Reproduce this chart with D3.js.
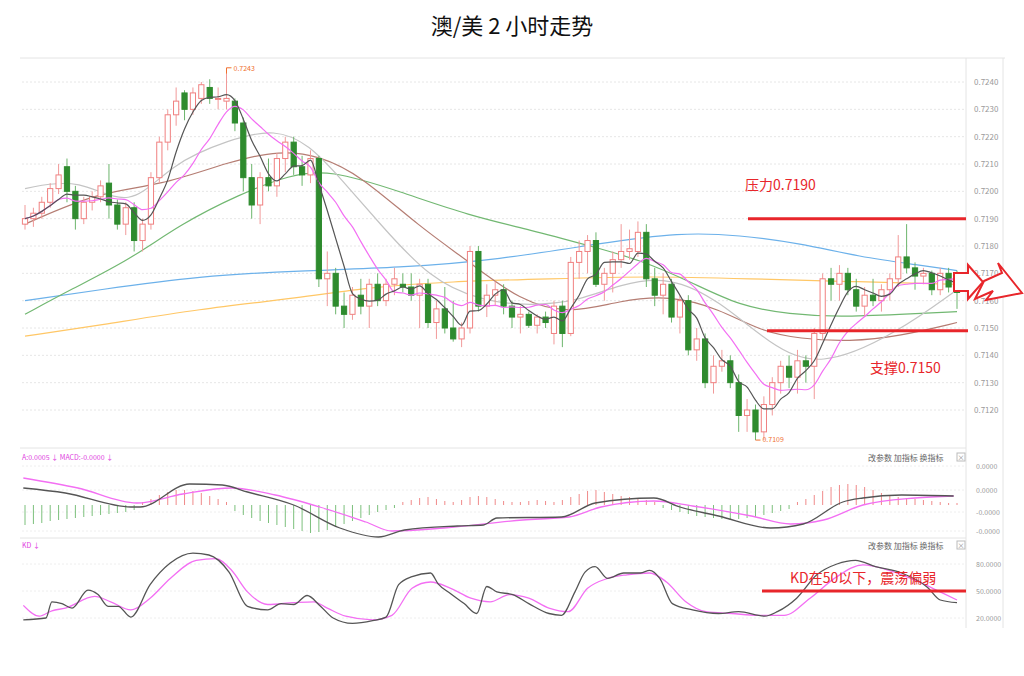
<!DOCTYPE html>
<html><head><meta charset="utf-8">
<script src="https://cdn.jsdelivr.net/npm/d3@7"></script>
<style>body{margin:0;background:#fff;font-family:"Noto Sans CJK SC","Noto Sans",sans-serif}</style>
</head><body><div id="chart"></div>
<script>
// 蜡烛 [open, high, low, close]，单位 0.0001
const candles = [
[7188,7195,7186,7190],[7190,7194,7187,7192],[7192,7198,7190,7196],[7196,7203,7194,7201],[7201,7210,7199,7206],
[7209,7212,7196,7200],[7200,7202,7186,7190],[7190,7198,7188,7196],[7196,7200,7193,7198],[7198,7204,7196,7202],
[7203,7210,7190,7195],[7195,7197,7186,7188],[7188,7196,7184,7194],[7194,7196,7178,7182],[7182,7190,7178,7188],
[7188,7207,7186,7205],[7205,7220,7203,7218],[7218,7230,7215,7228],[7228,7238,7224,7233],[7236,7237,7226,7230],
[7230,7238,7228,7236],[7234,7240,7232,7239],[7238,7241,7232,7234],[7234,7238,7230,7234],[7233,7243,7230,7234],
[7233,7234,7222,7225],[7225,7227,7200,7205],[7205,7210,7190,7195],[7195,7207,7188,7205],[7205,7212,7200,7202],
[7202,7214,7198,7212],[7212,7220,7207,7218],[7218,7220,7206,7209],[7209,7213,7202,7206],[7206,7215,7203,7212],
[7212,7213,7165,7168],[7168,7178,7158,7170],[7170,7172,7155,7158],[7158,7163,7150,7155],[7155,7165,7153,7162],
[7162,7168,7155,7158],[7158,7168,7150,7166],[7166,7170,7158,7160],[7160,7168,7158,7166],[7166,7172,7162,7168],
[7166,7170,7163,7165],[7165,7170,7160,7162],[7162,7168,7150,7166],[7166,7168,7150,7152],[7152,7160,7146,7157],
[7157,7165,7148,7150],[7150,7160,7145,7146],[7146,7152,7143,7150],[7150,7180,7148,7178],[7178,7180,7156,7158],
[7158,7166,7154,7162],[7162,7167,7158,7164],[7164,7166,7155,7158],[7158,7160,7150,7154],[7154,7158,7148,7155],
[7155,7156,7150,7151],[7151,7155,7148,7154],[7154,7156,7150,7152],[7148,7160,7144,7158],[7158,7160,7143,7148],
[7148,7176,7147,7174],[7174,7182,7168,7178],[7178,7184,7170,7182],[7182,7185,7165,7166],[7166,7172,7160,7170],
[7170,7178,7163,7175],[7175,7188,7172,7178],[7178,7186,7175,7179],[7178,7189,7176,7185],[7185,7188,7165,7168],
[7168,7172,7158,7162],[7162,7170,7155,7166],[7166,7168,7152,7154],[7154,7162,7148,7160],[7160,7162,7140,7142],
[7142,7150,7138,7146],[7146,7148,7128,7130],[7130,7140,7126,7136],[7136,7142,7134,7138],[7138,7140,7128,7130],
[7130,7133,7112,7118],[7118,7124,7112,7120],[7120,7122,7109,7112],[7112,7125,7109,7122],[7122,7132,7118,7130],
[7130,7138,7126,7136],[7136,7140,7128,7132],[7132,7142,7126,7138],[7138,7140,7130,7136],[7136,7150,7124,7148],
[7148,7170,7146,7168],[7168,7172,7160,7166],[7166,7173,7160,7170],[7170,7172,7162,7164],[7164,7168,7156,7158],
[7158,7165,7154,7162],[7162,7168,7158,7160],[7160,7166,7156,7164],[7164,7170,7160,7168],[7168,7184,7165,7176],
[7176,7188,7170,7172],[7172,7174,7164,7169],[7169,7172,7166,7170],[7170,7171,7162,7164],[7164,7172,7162,7170],
[7170,7172,7163,7165],[7170,7171,7157,7163]
];
// 均线采样 [bar, price]
const maGray = [[0,7201],[6.5,7205],[12.5,7193],[17.3,7210],[24.4,7219],[29.8,7223],[33.9,7217],[37.5,7205],[42.3,7188],[48.2,7168],[54.2,7160],[60.1,7158],[66.1,7160],[70.8,7166],[76.8,7169],[82.7,7160],[88.7,7144],[94.6,7135],[103.8,7148],[111,7164]];
const maBrown = [[0,7188],[8.9,7200],[16.1,7202],[24.4,7211],[30.4,7215],[35.1,7213],[39.9,7206],[47,7187],[53,7174],[58.9,7160],[64.9,7155],[70.8,7160],[76.8,7162],[82.7,7157],[87.5,7149],[92.3,7146],[98.2,7145],[104.2,7147],[111,7152]];
const maGreen = [[0,7155],[5.4,7164],[12.5,7175],[18.5,7188],[25.6,7199],[31.5,7206],[36.3,7208],[44.6,7200],[53,7191],[60.1,7186],[67.3,7180],[73.2,7175],[79.2,7167],[85.1,7158],[91.1,7155],[97,7154],[104.2,7155],[111,7156]];
const maBlue = [[0,7160],[8.9,7164],[20.8,7169],[32.7,7171],[44.6,7172],[56.5,7175],[68.5,7181],[78,7185],[85.1,7184],[92.3,7181],[99.4,7176],[106.5,7173],[111,7171]];
const maOrange = [[0,7147],[8.9,7151],[20.8,7157],[32.7,7161],[41.1,7165],[50.6,7167],[62.5,7168],[74.4,7169],[86.3,7168],[98.2,7167],[111,7166]];
const priceTicks = [7120,7130,7140,7150,7160,7170,7180,7190,7200,7210,7220,7230,7240];

// MACD
const dif = [[-0.2,17],[4.8,12],[12.6,-2],[13.7,-2],[19.6,21],[23.5,20],[26.5,13],[32,0],[37.5,-23],[42.1,-32],[45.2,-25],[51.5,-21],[54.6,-20],[56.2,-13],[63.9,-12],[67.9,2],[74.9,7],[78,-2],[82.6,-11],[88.8,-23],[92.7,-19],[97.4,3],[99.8,7],[104.4,10],[110.6,9]];
const dea = [[-0.2,27],[6.3,17],[13.3,2],[18.8,11],[24.6,17],[29.8,10],[35.1,-2],[40.6,-17],[43.7,-26],[49.9,-23],[59.3,-15],[64.8,-12],[68.6,-2],[74.9,4],[79.5,-1],[86.5,-11],[91.2,-19],[95.1,-15],[99.8,0],[106,7],[110.6,9]];
const hist = [-20,-19,-18,-16,-15,-14,-13,-12,-11,-10,-9,-8,-7,-5,
3,6,10,13,15,15,14,12,9,6,3,
-6,-10,-13,-16,-18,-20,-22,-24,-26,-28,-27,-25,-22,-19,-16,-13,-10,-7,-5,-3,
3,5,7,8,6,4,3,5,8,9,8,6,4,3,3,4,5,4,3,
5,8,11,14,15,13,11,9,8,7,5,3,
-3,-5,-7,-9,-11,-12,-13,-14,-15,-14,-13,-12,-10,-8,-6,-4,
3,6,10,14,18,20,21,20,18,15,12,10,8,7,6,5,4,3,2,2];
const macdTicks = [[39,'0.0000'],[15,'0.0000'],[-7,'-0.0000'],[-26,'-0.0000']];

// KD
const kLine = [[-0.2,18],[2.5,20],[3.2,38],[4.4,36],[5.6,31],[7.5,51],[8.7,46],[9.9,33],[11.1,33],[12.6,21],[14.9,57],[17.3,81],[20,92],[21.9,90],[24.3,71],[26.5,33],[28.9,29],[30.5,36],[32,35],[33.6,45],[35.1,34],[36.7,20],[39,14],[41.4,17],[43,21],[44.5,57],[46.1,66],[48.3,70],[49.2,58],[50.7,47],[52.3,36],[53.8,25],[55,55],[56.2,49],[58.1,46],[60,36],[62.4,25],[63.9,23],[65.5,49],[66.7,71],[67.9,77],[69.4,64],[71.3,70],[73.3,70],[74.4,73],[75.6,64],[77.1,36],[79.5,29],[82.6,25],[85,27],[88.1,22],[89.6,27],[91.9,42],[94.3,68],[96.7,80],[98.9,84],[101.3,77],[104.4,70],[107.5,54],[109,40],[111,37]];
const dLine = [[-0.2,34],[1.7,22],[3.2,28],[4.8,31],[8.3,44],[10.2,38],[12.6,29],[14.9,42],[17.3,64],[20.4,84],[22.7,86],[24.6,73],[26.5,49],[28.9,35],[32,37],[34.4,38],[36,31],[38.2,22],[41.4,18],[43.7,23],[46.1,53],[48.3,60],[50.7,53],[53.1,42],[55.4,38],[57.7,46],[60,42],[62.4,31],[64.7,27],[67,53],[69.4,64],[71.7,68],[74.4,70],[76.4,60],[78.7,38],[81.1,27],[84.2,25],[87.3,23],[90.4,23],[93.5,42],[96.7,66],[99.8,79],[102.9,73],[106,62],[109,49],[111,40]];
const kdTicks = [80,50,20];

const W = 1024, H = 676;
const svg = d3.select('#chart').append('svg').attr('width', W).attr('height', H);
const x = d3.scaleLinear().domain([0, 111]).range([25, 957]);
const y = d3.scaleLinear().domain([7120, 7240]).range([410, 82]);
const ym = d3.scaleLinear().domain([0, 10]).range([505, 495]);
const yk = d3.scaleLinear().domain([20, 80]).range([618, 564]);
const grey = '#999', red = '#e8262b';

svg.append('text').attr('x', 512).attr('y', 34).attr('text-anchor', 'middle')
  .attr('font-size', 22).attr('fill', '#111').text('澳/美 2 小时走势');

// 边框
const frame = svg.append('g').attr('stroke', '#e4e4e4').attr('fill', 'none');
frame.append('line').attr('x1', 20).attr('x2', 1005).attr('y1', 58).attr('y2', 58);
frame.append('line').attr('x1', 966).attr('x2', 966).attr('y1', 58).attr('y2', 628);
frame.append('line').attr('x1', 1003).attr('x2', 1003).attr('y1', 58).attr('y2', 628);
frame.append('line').attr('x1', 20).attr('x2', 966).attr('y1', 448).attr('y2', 448);
frame.append('line').attr('x1', 20).attr('x2', 966).attr('y1', 538).attr('y2', 538);

// 价格网格和坐标
const grid = svg.append('g');
grid.selectAll('line').data(priceTicks).join('line')
  .attr('x1', 22).attr('x2', 964).attr('y1', d => y(d)).attr('y2', d => y(d))
  .attr('stroke', '#e6e6e6').attr('stroke-dasharray', '2,2');
grid.selectAll('text').data(priceTicks).join('text')
  .attr('x', 974).attr('y', d => y(d) + 3).attr('font-size', 8).attr('fill', grey)
  .text(d => '0.' + d);

// 均线
const maLine = d3.line().x(d => x(d[0])).y(d => y(d[1])).curve(d3.curveBasis);
[[maOrange, '#ffc766'], [maBlue, '#6cb1ea'], [maGreen, '#72b872'], [maBrown, '#b57d73'], [maGray, '#c4c4c4']]
  .forEach(([d, c]) => svg.append('path').attr('d', maLine(d)).attr('fill', 'none').attr('stroke', c).attr('stroke-width', 1.2));

// 蜡烛
const cg = svg.append('g');
const up = d => d[3] >= d[0];
cg.selectAll('line').data(candles).join('line')
  .attr('x1', (d, i) => x(i)).attr('x2', (d, i) => x(i))
  .attr('y1', d => y(d[1])).attr('y2', d => y(d[2]))
  .attr('stroke', d => up(d) ? '#f19a9a' : '#6cb56c');
cg.selectAll('rect').data(candles).join('rect')
  .attr('x', (d, i) => x(i) - 2.6).attr('width', 5.2)
  .attr('y', d => y(Math.max(d[0], d[3])))
  .attr('height', d => Math.max(1, Math.abs(y(d[0]) - y(d[3]))))
  .attr('fill', d => up(d) ? '#fff' : '#2e8b2e')
  .attr('stroke', d => up(d) ? '#f08080' : '#2e8b2e');

// MA5 / MA10 from closes
const closes = candles.map(d => d[3]);
const ma = n => closes.map((c, i) => [i, d3.mean(closes.slice(Math.max(0, i - n + 1), i + 1))]);
const lineB = d3.line().x(d => x(d[0])).y(d => y(d[1])).curve(d3.curveMonotoneX);
svg.append('path').attr('d', lineB(ma(10))).attr('fill', 'none').attr('stroke', '#f36ff3').attr('stroke-width', 1.2);
svg.append('path').attr('d', lineB(ma(5))).attr('fill', 'none').attr('stroke', '#555').attr('stroke-width', 1.2);

// 最高/最低标注
svg.append('path').attr('d', `M${x(24)},${y(7243)} v-6 h5`).attr('stroke', '#f07030').attr('fill', 'none');
svg.append('text').attr('x', x(24) + 7).attr('y', y(7243) - 3).attr('font-size', 7).attr('fill', '#f07030').text('0.7243');
svg.append('path').attr('d', `M${x(87)},${y(7109)} h5`).attr('stroke', '#f07030').attr('fill', 'none');
svg.append('text').attr('x', x(87) + 7).attr('y', y(7109) + 2).attr('font-size', 7).attr('fill', '#f07030').text('0.7109');

// 压力 / 支撑
svg.append('line').attr('x1', 748).attr('x2', 966).attr('y1', y(7190)).attr('y2', y(7190)).attr('stroke', red).attr('stroke-width', 3);
svg.append('text').attr('x', 745).attr('y', 190).attr('font-size', 14).attr('fill', red).text('压力0.7190');
svg.append('line').attr('x1', 767).attr('x2', 968).attr('y1', y(7149)).attr('y2', y(7149)).attr('stroke', red).attr('stroke-width', 3);
svg.append('text').attr('x', 870).attr('y', 373).attr('font-size', 14).attr('fill', red).text('支撑0.7150');

// 箭头
svg.append('path').attr('d', 'M954,273 h14 v-8 l15,17 l-15,17 v-8 h-14 z')
  .attr('fill', '#fff').attr('stroke', red).attr('stroke-width', 2);
svg.append('path').attr('d', 'M984,281 l18,-8 l-4,-10 l24,30 l-36,7 l7,-9 l-18,8 z')
  .attr('fill', '#fff').attr('stroke', red).attr('stroke-width', 2);

// 面板头部按钮
function header(yy, left) {
  svg.append('text').attr('x', 22).attr('y', yy).attr('font-size', 7).attr('fill', '#e040e0').text(left);
  svg.append('text').attr('x', 868).attr('y', yy + 1).attr('font-size', 8).attr('fill', '#666').text('改参数  加指标  换指标');
  svg.append('rect').attr('x', 957).attr('y', yy - 7).attr('width', 8).attr('height', 8).attr('fill', '#fff').attr('stroke', '#bbb');
  svg.append('text').attr('x', 961).attr('y', yy).attr('font-size', 7).attr('text-anchor', 'middle').attr('fill', '#888').text('×');
}
header(460, 'A:0.0005 ↓  MACD:-0.0000 ↓');
header(548, 'KD ↓');

// MACD
svg.append('g').selectAll('text').data(macdTicks).join('text')
  .attr('x', 976).attr('y', d => ym(d[0]) + 3).attr('font-size', 7).attr('fill', grey).text(d => d[1]);
svg.append('g').selectAll('line').data(macdTicks).join('line')
  .attr('x1', 22).attr('x2', 964).attr('y1', d => ym(d[0])).attr('y2', d => ym(d[0]))
  .attr('stroke', '#eee').attr('stroke-dasharray', '2,2');
svg.append('g').selectAll('line').data(hist).join('line')
  .attr('x1', (d, i) => x(i)).attr('x2', (d, i) => x(i))
  .attr('y1', ym(0)).attr('y2', d => ym(d))
  .attr('stroke', d => d >= 0 ? '#f08a8a' : '#7cc07c');
const lm = d3.line().x(d => x(d[0])).y(d => ym(d[1])).curve(d3.curveMonotoneX);
svg.append('path').attr('d', lm(dea)).attr('fill', 'none').attr('stroke', '#f36ff3').attr('stroke-width', 1.3);
svg.append('path').attr('d', lm(dif)).attr('fill', 'none').attr('stroke', '#555').attr('stroke-width', 1.3);

// KD
svg.append('g').selectAll('text').data(kdTicks).join('text')
  .attr('x', 976).attr('y', d => yk(d) + 3).attr('font-size', 7).attr('fill', grey).text(d => d + '.0000');
svg.append('g').selectAll('line').data(kdTicks).join('line')
  .attr('x1', 22).attr('x2', 964).attr('y1', d => yk(d)).attr('y2', d => yk(d))
  .attr('stroke', '#eee').attr('stroke-dasharray', '2,2');
const lk = d3.line().x(d => x(d[0])).y(d => yk(d[1])).curve(d3.curveMonotoneX);
svg.append('path').attr('d', lk(dLine)).attr('fill', 'none').attr('stroke', '#f36ff3').attr('stroke-width', 1.3);
svg.append('path').attr('d', lk(kLine)).attr('fill', 'none').attr('stroke', '#555').attr('stroke-width', 1.3);
svg.append('line').attr('x1', 762).attr('x2', 966).attr('y1', yk(50)).attr('y2', yk(50)).attr('stroke', red).attr('stroke-width', 3);
svg.append('text').attr('x', 790).attr('y', 583).attr('font-size', 14).attr('fill', red).text('KD在50以下，震荡偏弱');
</script></body></html>
